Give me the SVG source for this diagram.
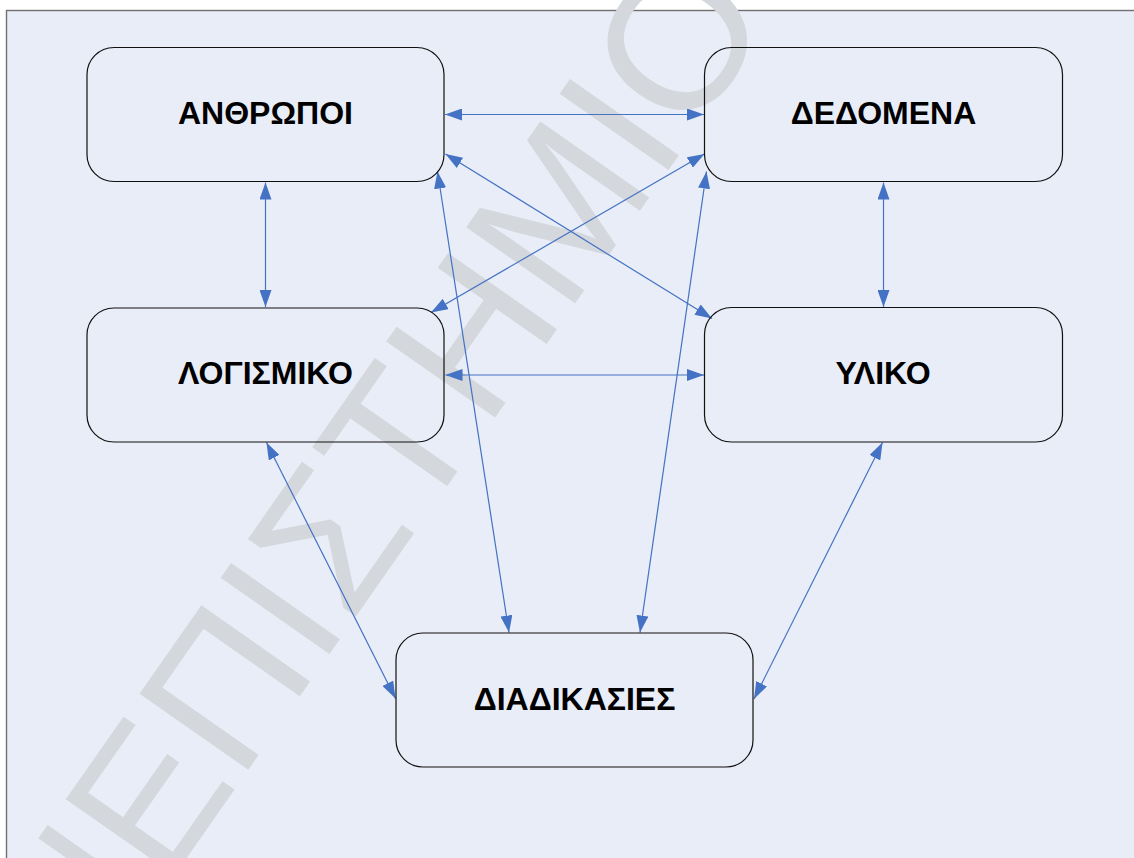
<svg xmlns="http://www.w3.org/2000/svg" width="1134" height="858" viewBox="0 0 1134 858">
  <defs>
    <style>
      .frame { fill: #e9edf7; stroke: #707070; stroke-width: 1.4; }
      .mark { font-family: "Liberation Sans", Arial, sans-serif; font-size: 193px; fill: #d4d7dc; }
      .box { fill: none; stroke: #111111; stroke-width: 1.2; }
      .label { font-family: "Liberation Sans", Arial, sans-serif; font-size: 32px; font-weight: bold; fill: #000000; text-anchor: middle; }
      .link { stroke: #4472c4; stroke-width: 1.2; fill: none; marker-start: url(#head); marker-end: url(#head); }
    </style>
    <marker id="head" viewBox="0 0 17 12" refX="17" refY="6" markerWidth="17" markerHeight="12" markerUnits="userSpaceOnUse" orient="auto-start-reverse">
      <path d="M0,0 L17,6 L0,12 z" fill="#4472c4"/>
    </marker>
  </defs>

  <!-- page and frame -->
  <rect x="0" y="0" width="1134" height="858" fill="#ffffff"/>
  <rect class="frame" x="6.5" y="10.5" width="1200" height="1000"/>

  <!-- diagonal watermark -->
  <text class="mark" transform="translate(85.5,1002.4) rotate(-55)">ΝΕΠΙΣΤΗΜΙΟ</text>

  <!-- connectors (all two-way) -->
  <g id="connectors">
    <line class="link" x1="445" y1="114.5" x2="704" y2="114.5"/>
    <line class="link" x1="265.5" y1="182.5" x2="265.5" y2="307"/>
    <line class="link" x1="883.5" y1="182.5" x2="883.5" y2="307"/>
    <line class="link" x1="445.5" y1="375" x2="704" y2="375"/>
    <line class="link" x1="445.5" y1="154" x2="712" y2="318.5"/>
    <line class="link" x1="704.5" y1="154" x2="431" y2="312.5"/>
    <line class="link" x1="437.5" y1="171.5" x2="509" y2="632.5"/>
    <line class="link" x1="706.5" y1="171.5" x2="640" y2="632.5"/>
    <line class="link" x1="266.5" y1="442.5" x2="395.5" y2="698.5"/>
    <line class="link" x1="882.5" y1="442.5" x2="754" y2="699"/>
  </g>

  <!-- nodes -->
  <g id="node-anthropoi">
    <rect class="box" x="87" y="47.5" width="357" height="134" rx="27" ry="27"/>
    <text class="label" x="265.5" y="123.5">ΑΝΘΡΩΠΟΙ</text>
  </g>
  <g id="node-dedomena">
    <rect class="box" x="704.5" y="47.5" width="358" height="134" rx="27" ry="27"/>
    <text class="label" x="883.5" y="124">ΔΕΔΟΜΕΝΑ</text>
  </g>
  <g id="node-logismiko">
    <rect class="box" x="87" y="308" width="357" height="134" rx="27" ry="27"/>
    <text class="label" x="265.5" y="383.5">ΛΟΓΙΣΜΙΚΟ</text>
  </g>
  <g id="node-yliko">
    <rect class="box" x="704.5" y="307.5" width="358" height="134.5" rx="27" ry="27"/>
    <text class="label" x="883" y="384">ΥΛΙΚΟ</text>
  </g>
  <g id="node-diadikasies">
    <rect class="box" x="396" y="633" width="357" height="134" rx="27" ry="27"/>
    <text class="label" x="574.5" y="710">ΔΙΑΔΙΚΑΣΙΕΣ</text>
  </g>
</svg>
